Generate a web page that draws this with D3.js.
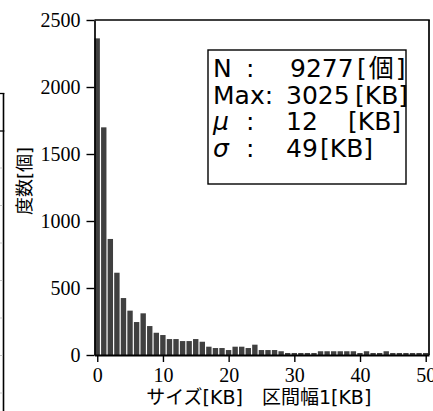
<!DOCTYPE html>
<html>
<head>
<meta charset="utf-8">
<script src="https://cdn.jsdelivr.net/npm/d3@7"></script>
<style>
  body { margin: 0; background: #fff; }
  svg { display: block; }
  .tick text { font-family: "Liberation Serif", serif; font-size: 20px; fill: #000; }
  .sans { font-family: "DejaVu Sans", "Noto Sans CJK JP", sans-serif; fill: #000; }
</style>
</head>
<body>
<div id="chart"></div>
<script>
// histogram of sizes, 1 KB bins (bin centre = KB)
var bins = d3.range(0, 51);
var counts = [2363, 1699, 866, 614, 425, 331, 246, 311, 216, 166,
              149, 119, 119, 104, 104, 119, 99, 62, 52, 52,
              37, 62, 62, 52, 77, 37, 37, 37, 28, 15,
              15, 15, 15, 15, 28, 28, 28, 28, 28, 28,
              15, 28, 15, 15, 28, 15, 15, 15, 15, 15, 15];

var yTicks = [0, 500, 1000, 1500, 2000, 2500];
var xTicks = [0, 10, 20, 30, 40, 50];

var xLabel = "サイズ[KB]\u3000区間幅1[KB]";
var yLabel = "度数[個]";

// statistics box
var statNames = ["N", "Max:", "μ", "σ"];
var statColon = [":", "", ":", ":"];
var statValues = ["9277", "3025", "12", "49"];
var statUnits = ["[個]", "[KB]", "[KB]", "[KB]"];

var svgWidth = 433;
var svgHeight = 411;

var svg = d3.select("#chart")
  .append("svg")
  .attr("width", svgWidth)
  .attr("height", svgHeight);

var plotLeft = 94.5, plotRight = 429, plotTop = 20, plotBottom = 355;

var x = d3.scaleLinear()
  .domain([-0.42, 50.5])
  .range([plotLeft, plotRight]);

var y = d3.scaleLinear()
  .domain([0, 2500])
  .range([plotBottom, plotTop]);

// piece of the neighbouring chart cut off at the left edge
var edge = svg.append("g");
edge.append("line").attr("x1", 3.5).attr("x2", 3.5).attr("y1", 93).attr("y2", svgHeight)
  .attr("stroke", "#000").attr("stroke-width", 1.6);
edge.append("line").attr("x1", 0).attr("x2", 4.3).attr("y1", 93.5).attr("y2", 93.5)
  .attr("stroke", "#000").attr("stroke-width", 1.3);
edge.append("line").attr("x1", 0).attr("x2", 4.3).attr("y1", 131).attr("y2", 131)
  .attr("stroke", "#000").attr("stroke-width", 1.3);
edge.selectAll(".faint")
  .data(d3.range(168, 400, 37.5))
  .enter()
  .append("line")
  .attr("x1", 0).attr("x2", 2.5)
  .attr("y1", d => d).attr("y2", d => d)
  .attr("stroke", "#c8c8c8").attr("stroke-width", 1);

// bars
svg.selectAll(".bar")
  .data(bins)
  .enter()
  .append("rect")
  .attr("class", "bar")
  .attr("x", d => x(d - 0.42))
  .attr("width", d => x(d + 0.4) - x(d - 0.42))
  .attr("y", (d, i) => y(counts[i]))
  .attr("height", (d, i) => y(0) - y(counts[i]))
  .attr("fill", "#404040");

// frame
svg.append("line").attr("x1", plotLeft).attr("x2", plotRight + 0.8).attr("y1", plotTop).attr("y2", plotTop)
  .attr("stroke", "#000").attr("stroke-width", 1.4);
svg.append("line").attr("x1", plotRight).attr("x2", plotRight).attr("y1", plotTop).attr("y2", plotBottom)
  .attr("stroke", "#000").attr("stroke-width", 1.7);

// axes
var leftAxis = d3.axisLeft(y).tickValues(yTicks).tickFormat(d3.format("d"))
  .tickSize(8).tickSizeOuter(0).tickPadding(6);
var bottomAxis = d3.axisBottom(x).tickValues(xTicks).tickFormat(d3.format("d"))
  .tickSize(7).tickSizeOuter(0).tickPadding(6);

var yAxis = svg.append("g")
  .attr("transform", `translate(${plotLeft}, 0)`)
  .call(leftAxis);
yAxis.select(".domain").attr("stroke-width", 1.7);
yAxis.selectAll(".tick line").attr("stroke-width", 1.4);
yAxis.selectAll(".tick text").attr("dy", "0.33em");

var xAxis = svg.append("g")
  .attr("transform", `translate(0, ${plotBottom})`)
  .call(bottomAxis);
xAxis.select(".domain").attr("stroke-width", 2.2);
xAxis.selectAll(".tick line").attr("stroke-width", 1.4);
xAxis.selectAll(".tick text").attr("dy", "0.7em");

// axis titles
svg.append("text")
  .attr("class", "sans")
  .attr("x", (plotLeft + plotRight) / 2 - 3)
  .attr("y", 404)
  .attr("text-anchor", "middle")
  .attr("font-size", 19)
  .text(xLabel);

svg.append("text")
  .attr("class", "sans")
  .attr("transform", "translate(31, 181) rotate(-90)")
  .attr("text-anchor", "middle")
  .attr("font-size", 18)
  .text(yLabel);

// stats box
svg.append("rect")
  .attr("x", 208).attr("y", 50)
  .attr("width", 198).attr("height", 134)
  .attr("fill", "#fff")
  .attr("stroke", "#000").attr("stroke-width", 1.4);

var lineY = [77, 104, 130, 157];
var valueX = [290, 286, 286, 286];
var unitX = [357, 355, 348, 320];

var stats = svg.append("g").attr("class", "sans").attr("font-size", 25);
statNames.forEach(function(name, i) {
  stats.append("text")
    .attr("x", 213).attr("y", lineY[i])
    .attr("font-style", i >= 2 ? "italic" : "normal")
    .text(name);
  stats.append("text")
    .attr("x", 246).attr("y", lineY[i])
    .text(statColon[i]);
  stats.append("text")
    .attr("x", valueX[i]).attr("y", lineY[i])
    .text(statValues[i]);
  stats.append("text")
    .attr("x", unitX[i]).attr("y", lineY[i])
    .attr("letter-spacing", i === 0 ? 2 : 0)
    .text(statUnits[i]);
});
</script>
</body>
</html>
